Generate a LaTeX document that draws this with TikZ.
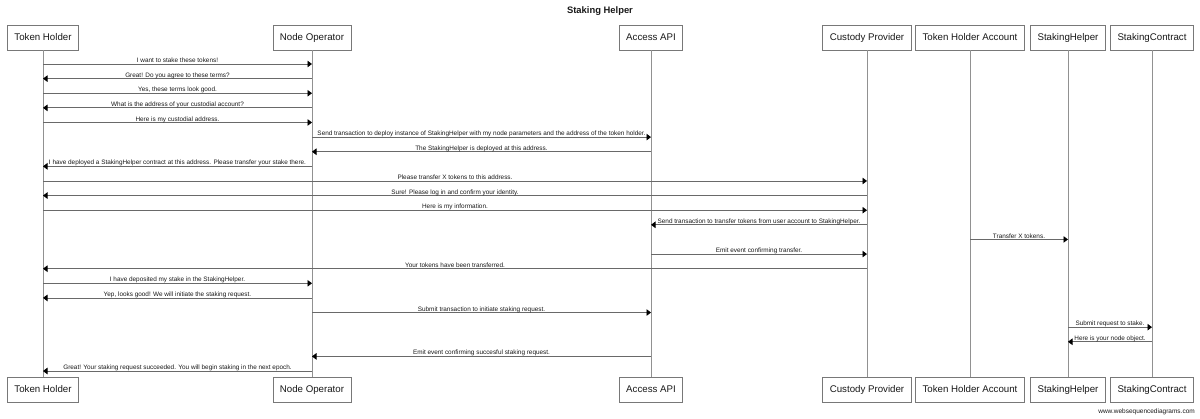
\documentclass[tikz,border=0pt]{standalone}
\usepackage{fontspec}
\setmainfont{Liberation Sans}
\usetikzlibrary{arrows.meta}
\definecolor{lifeline}{RGB}{145,145,145}
\definecolor{msgline}{RGB}{105,105,105}
\definecolor{boxline}{RGB}{120,120,120}
\definecolor{ink}{RGB}{25,25,25}
% one message: source, target, row number, label
\newcommand\seqmsg[4]{%
  \pgfmathsetmacro\msgy{64+#3*14.62}%
  \draw[msg] (#1T |- 0,\msgy) -- node[lbl] {#4} (#2T |- 0,\msgy);%
}
\begin{document}
\begin{tikzpicture}[x=1pt,y=-1pt,
  actor/.style={draw=boxline, line width=0.8pt, fill=white, minimum height=25pt,
    inner xsep=7pt, inner ysep=0pt, text=ink, font=\fontsize{9.7}{11}\selectfont},
  life/.style={draw=lifeline, line width=0.8pt},
  msg/.style={draw=msgline, line width=0.8pt, -{Triangle[length=4.5pt,width=6.5pt,color=black]}},
  lbl/.style={midway, anchor=base, yshift=1.4pt, inner sep=0pt, text=ink,
    font=\fontsize{6.4}{7.5}\selectfont}]
\useasboundingbox (0,0) rectangle (1200,419);

\node[font=\bfseries\fontsize{9.4}{11}\selectfont, text=ink] (title) at (600,11) {Staking Helper};

% participants, top and bottom, with their lifelines
\foreach \id/\x/\t in {th/43/Token Holder, no/312/Node Operator, api/651/Access API,
    cp/867/Custody Provider, tha/970/Token Holder Account, sh/1068/StakingHelper,
    sc/1152/StakingContract}{
  \node[actor] (\id T) at (\x,37.5) {\t};
  \node[actor] (\id B) at (\x,389.5) {\t};
  \draw[life] (\id T) -- (\id B);
}

\seqmsg{th}{no}{0}{I want to stake these tokens!}
\seqmsg{no}{th}{1}{Great! Do you agree to these terms?}
\seqmsg{th}{no}{2}{Yes, these terms look good.}
\seqmsg{no}{th}{3}{What is the address of your custodial account?}
\seqmsg{th}{no}{4}{Here is my custodial address.}
\seqmsg{no}{api}{5}{Send transaction to deploy instance of StakingHelper with my node parameters and the address of the token holder.}
\seqmsg{api}{no}{6}{The StakingHelper is deployed at this address.}
\seqmsg{no}{th}{7}{I have deployed a StakingHelper contract at this address. Please transfer your stake there.}
\seqmsg{th}{cp}{8}{Please transfer X tokens to this address.}
\seqmsg{cp}{th}{9}{Sure! Please log in and confirm your identity.}
\seqmsg{th}{cp}{10}{Here is my information.}
\seqmsg{cp}{api}{11}{Send transaction to transfer tokens from user account to StakingHelper.}
\seqmsg{tha}{sh}{12}{Transfer X tokens.}
\seqmsg{api}{cp}{13}{Emit event confirming transfer.}
\seqmsg{cp}{th}{14}{Your tokens have been transferred.}
\seqmsg{th}{no}{15}{I have deposited my stake in the StakingHelper.}
\seqmsg{no}{th}{16}{Yep, looks good! We will initiate the staking request.}
\seqmsg{no}{api}{17}{Submit transaction to initiate staking request.}
\seqmsg{sh}{sc}{18}{Submit request to stake.}
\seqmsg{sc}{sh}{19}{Here is your node object.}
\seqmsg{api}{no}{20}{Emit event confirming succesful staking request.}
\seqmsg{no}{th}{21}{Great! Your staking request succeeded. You will begin staking in the next epoch.}

\node[anchor=base east, inner sep=0pt, text=ink, font=\fontsize{6.5}{7}\selectfont]
  (credit) at (1195,414) {www.websequencediagrams.com};
\end{tikzpicture}
\end{document}
